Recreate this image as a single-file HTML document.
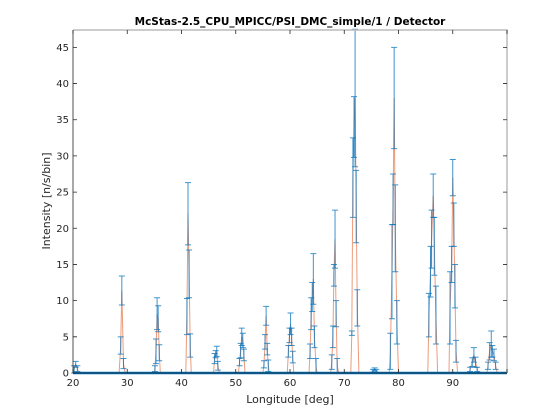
<!DOCTYPE html>
<html><head><meta charset="utf-8"><style>
body{margin:0;background:#fff;}
svg{display:block;font-family:"DejaVu Sans","Liberation Sans",sans-serif;}
</style></head><body>
<svg id="chart" width="560" height="420">
<rect width="560" height="420" fill="#fff"/>
<text x="290" y="25" text-anchor="middle" font-size="10.5" font-weight="bold" fill="#000">McStas-2.5_CPU_MPICC/PSI_DMC_simple/1 / Detector</text>
<text x="290" y="403" text-anchor="middle" font-size="11" fill="#262626">Longitude [deg]</text>
<text transform="translate(50,201) rotate(-90)" text-anchor="middle" font-size="11" fill="#262626">Intensity [n/s/bin]</text>
<g id="plot"></g>
</svg>
<script>
const xTicks=[20,30,40,50,60,70,80,90,100];
const xTickLabels=["20","30","40","50","60","70","80","90",""];
const yTicks=[0,5,10,15,20,25,30,35,40,45];
const xs=[20,20.2,20.5,20.8,21.1,28.5,28.8,29.0,29.3,29.6,35.0,35.1,35.3,35.5,35.7,35.9,36.1,40.8,41.0,41.2,41.4,41.6,41.8,45.9,46.1,46.3,46.5,46.7,47.0,50.5,50.7,50.9,51.1,51.3,51.5,51.7,55.0,55.2,55.4,55.6,55.8,56.0,56.2,59.5,59.7,59.9,60.1,60.3,60.5,60.7,63.5,63.7,63.9,64.1,64.3,64.5,64.8,65.0,67.5,67.7,67.9,68.1,68.3,68.5,68.7,69.0,71.2,71.4,71.6,71.8,72.0,72.2,72.4,72.7,75.0,75.3,75.6,75.9,76.2,78.3,78.5,78.8,79.0,79.2,79.4,79.7,80.0,85.4,85.6,85.9,86.1,86.4,86.6,86.9,87.2,89.3,89.5,89.8,90.0,90.2,90.4,90.6,90.9,93.0,93.2,93.6,93.9,94.2,94.5,94.8,96.3,96.5,96.8,97.1,97.3,97.6,97.9,98.2,100];
const ys=[0,0.5,1.2,0.6,0,0,3.8,11.4,1.3,0,0,0.6,3,8.2,7.5,2.8,0,0,7.8,22,13.7,3.8,0,0,2,2.6,3,1,0,0,1.5,3.1,5,4.5,2.5,0,0,1.2,4.3,7.9,3.3,1,0,0,3,5.2,6.8,5,2.2,0,0,3,8.2,10.5,13,5,1,0,0,1.5,5,13.5,18.5,8.2,1,0,0,5.5,27,34,38,23,9,0,0,0.3,0.5,0.3,0,0,3,14,24,38,20,7,0,0,8,14,18.5,24.5,17.5,8,0,0,9,15,27,20.5,12,3,0,0,0.5,1.5,2.5,1.5,0.5,0,0,1,3,4,3,2.5,1,0,0];
const errs=[0,0.5,0.4,0.4,0,0,1.2,2,0.7,0,0,0.4,1.7,2.2,1.8,1.1,0,0,2.5,4.3,3.3,1.6,0,0,0.7,0.5,0.7,0.6,0,0,0.5,1,1.2,1,0.8,0,0,0.5,1,1.3,0.8,0.8,0,0,0.8,1,1.5,1.2,0.8,0,0,1,2.2,2,3.5,1.5,1,0,0,1,1.5,1.5,4,1.8,1,0,0,0.3,5.5,4.2,9.5,5,2.5,0,0,0.2,0.2,0.2,0,0,2.5,6.5,3.5,7,6,3,0,0,3,3.5,4,3,4,4,0,0,5,2.5,2.5,3,3,1.5,0,0,0.3,0.6,1,0.7,0.3,0,0,0.5,1.2,1.8,0.8,0.8,0.5,0,0];
const L=73,R=507,T=30,B=373,XMIN=20,XMAX=100,YMIN=0,YMAX=47.4;
const sx=v=>L+(v-XMIN)/(XMAX-XMIN)*(R-L);
const sy=v=>B-(v-YMIN)/(YMAX-YMIN)*(B-T);
const NS="http://www.w3.org/2000/svg";
const g=document.getElementById('plot');
function mk(tag,attrs){const e=document.createElementNS(NS,tag);for(const k in attrs)e.setAttribute(k,attrs[k]);g.appendChild(e);return e;}
let d=xs.map((x,i)=>(i?'L':'M')+sx(x).toFixed(1)+' '+sy(ys[i]).toFixed(1)).join(' ');
const ln=mk('path',{d:d,fill:'none',stroke:'#e8825a','stroke-width':1,'stroke-opacity':0.8});


const bl=mk('line',{x1:sx(XMIN),x2:sx(XMAX),y1:sy(0),y2:sy(0),stroke:'#0072bd','stroke-width':2.5});


xs.forEach((x,i)=>{
  if(errs[i]<=0)return;
  const px=sx(x),t=sy(ys[i]+errs[i]),b=sy(Math.max(0,ys[i]-errs[i]));
  const eb=mk('path',{d:`M${px} ${t}L${px} ${b}M${px-3} ${t}L${px+3} ${t}M${px-3} ${b}L${px+3} ${b}`,stroke:'#0072bd','stroke-width':1,'stroke-opacity':0.75,fill:'none'});
  
  
});
const box=mk('path',{d:`M${L} ${T}L${R} ${T}L${R} ${B}`,fill:'none',stroke:'#bbbbbb','stroke-width':1.5});


const ax=mk('path',{d:`M${L} ${T}L${L} ${B}L${R} ${B}`,fill:'none',stroke:'#262626','stroke-width':0.8});


xTicks.forEach((v,i)=>{
  const px=sx(v);
  const tk=mk('path',{d:`M${px} ${B}L${px} ${B-4}M${px} ${T}L${px} ${T+4}`,stroke:'#262626','stroke-width':0.8});
  
  
  const tx=mk('text',{x:px,y:B+13,'text-anchor':'middle','font-size':10,fill:'#262626'});
  tx.textContent=xTickLabels[i];
  
  
});
yTicks.forEach(v=>{
  const py=sy(v);
  const tk=mk('path',{d:`M${L} ${py}L${L+4} ${py}M${R} ${py}L${R-4} ${py}`,stroke:'#262626','stroke-width':0.8});
  
  
  const tx=mk('text',{x:L-4,y:py+3.5,'text-anchor':'end','font-size':10,fill:'#262626'});
  tx.textContent=String(v);
  
  
});
</script>
</body></html>
